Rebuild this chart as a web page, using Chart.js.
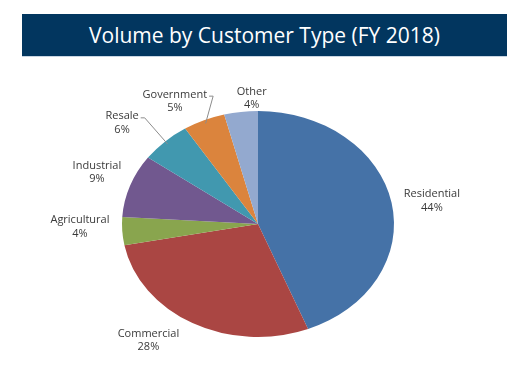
<!DOCTYPE html>
<html lang="en">
<head>
    <meta charset="UTF-8">
    <title>Volume by Customer Type (FY 2018)</title>
    <script src="https://cdn.jsdelivr.net/npm/chart.js"></script>
    <style>
        body { margin: 0; background: #fff; }
        #wrap { position: relative; width: 518px; height: 366px; }
        #titleBar {
            position: absolute; left: 22px; top: 14px; width: 485px; height: 42px;
            background: #02365f; color: #fff; text-align: center;
            font: 21px "Open Sans", sans-serif; line-height: 42px;
            border-bottom: 1px solid #c9d6e3;
        }
        #volumeChart { position: absolute; left: 0; top: 0; }
    </style>
</head>
<body>
<div id="wrap">
    <div id="titleBar">Volume by Customer Type (FY 2018)</div>
    <canvas id="volumeChart" width="518" height="366"></canvas>
</div>
<script>
    // data
    const customerTypes = ['Residential', 'Commercial', 'Agricultural', 'Industrial', 'Resale', 'Government', 'Other'];
    const volumeShare = [44, 28, 4, 9, 6, 5, 4];
    const sliceColors = ['#4572a7', '#aa4643', '#89a54e', '#71588f', '#4198af', '#db843d', '#93a9cf'];

    // pie is drawn squashed like the original (ellipse)
    const yScale = 113 / 136;
    // small nudges of the labels, in px, and which labels get a leader line
    const labelNudge = [[2, 2], [-24, -3], [-2, -6], [0, -6], [-24, -2], [-12, 2], [14, 9]];
    const hasLeader = [false, false, false, false, true, true, false];

    const squashPlugin = {
        id: 'squash',
        beforeDatasetsDraw(chart) {
            const arc = chart.getDatasetMeta(0).data[0];
            const ctx = chart.ctx;
            ctx.save();
            ctx.translate(arc.x, arc.y);
            ctx.scale(1, yScale);
            ctx.translate(-arc.x, -arc.y);
        },
        afterDatasetsDraw(chart) {
            chart.ctx.restore();
        }
    };

    const labelPlugin = {
        id: 'sliceLabels',
        afterDraw(chart) {
            const ctx = chart.ctx;
            const meta = chart.getDatasetMeta(0);
            ctx.save();
            ctx.font = '11px "Open Sans", sans-serif';
            ctx.fillStyle = '#3a3a3a';
            ctx.textAlign = 'center';
            ctx.textBaseline = 'middle';
            meta.data.forEach((arc, i) => {
                const mid = (arc.startAngle + arc.endAngle) / 2;
                const c = Math.cos(mid), s = Math.sin(mid);
                const r = arc.outerRadius;
                const name = customerTypes[i];
                const pct = volumeShare[i] + '%';
                const w = Math.max(ctx.measureText(name).width, ctx.measureText(pct).width);
                const h = 28;
                const ax = arc.x + r * 1.08 * c;
                const ay = arc.y + r * 1.08 * s * yScale;
                const cx = ax + c * w / 2 + labelNudge[i][0];
                const cy = ay + s * h / 2 + labelNudge[i][1];
                ctx.fillText(name, cx, cy - 6.5);
                ctx.fillText(pct, cx, cy + 7);
                if (hasLeader[i]) {
                    // leader: short horizontal tick, then down to the slice edge
                    const ex = arc.x + r * 0.97 * c;
                    const ey = arc.y + r * 0.97 * s * yScale;
                    const nameW = ctx.measureText(name).width;
                    const sx = cx + nameW / 2 + 2;
                    const sy = cy - 5;
                    ctx.strokeStyle = '#8c8c8c';
                    ctx.lineWidth = 1;
                    ctx.beginPath();
                    ctx.moveTo(sx, sy);
                    ctx.lineTo(sx + 4, sy);
                    ctx.lineTo(ex, ey);
                    ctx.stroke();
                }
            });
            ctx.restore();
        }
    };

    new Chart(document.getElementById('volumeChart'), {
        type: 'pie',
        data: {
            labels: customerTypes,
            datasets: [{
                data: volumeShare,
                backgroundColor: sliceColors,
                borderWidth: 0
            }]
        },
        options: {
            responsive: false,
            animation: false,
            layout: { padding: { left: 122, right: 124, top: 88, bottom: 6 } },
            plugins: {
                legend: { display: false },
                tooltip: { enabled: false }
            }
        },
        plugins: [squashPlugin, labelPlugin]
    });
</script>
</body>
</html>
